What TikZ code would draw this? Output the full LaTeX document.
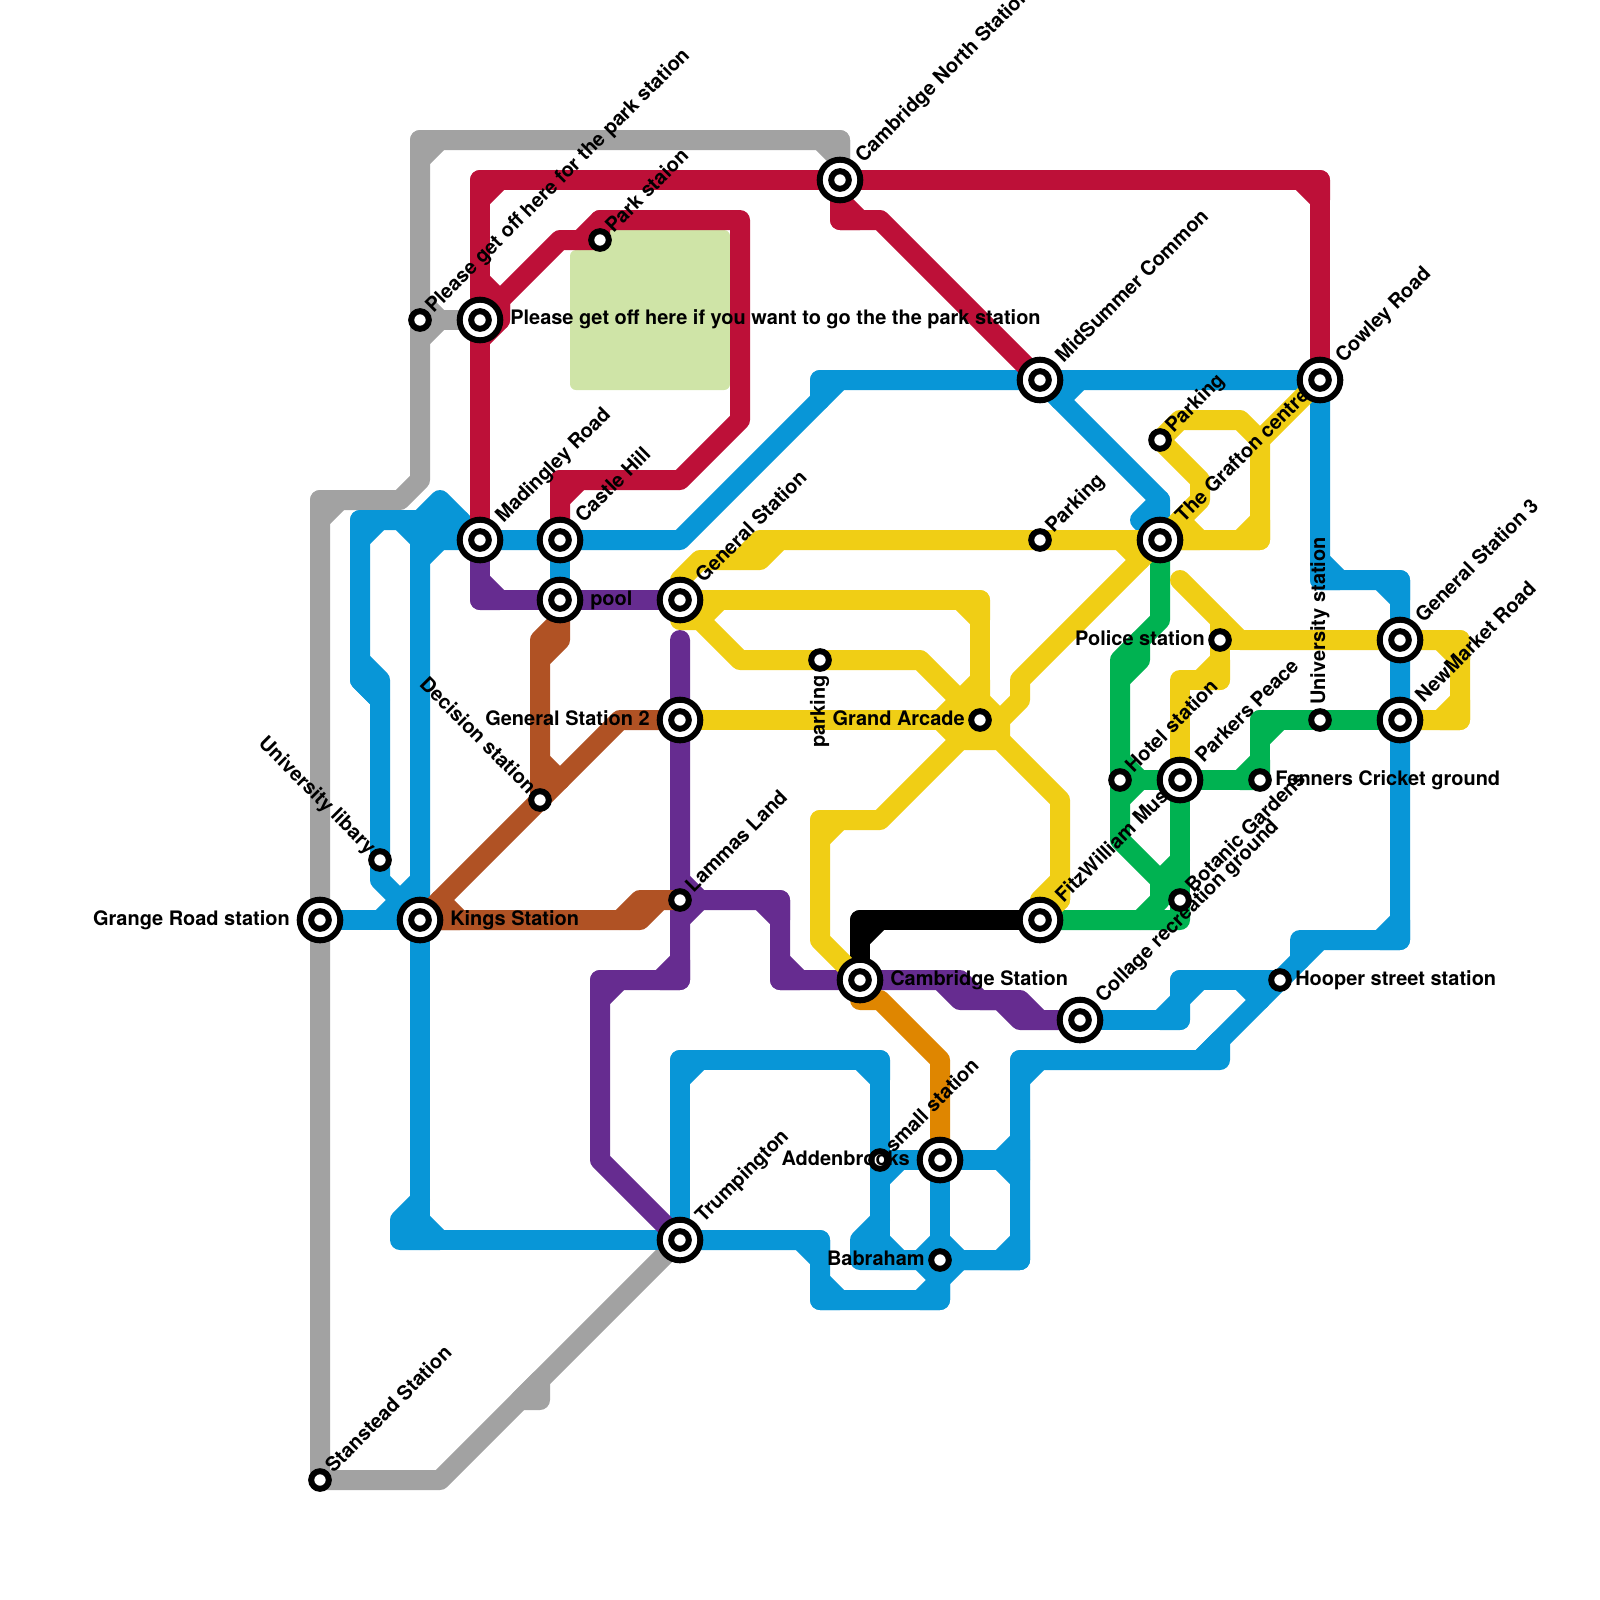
\documentclass[tikz,border=0pt]{standalone}
\usepackage{fontspec}
\setmainfont{TeX Gyre Heros}
\usepackage{xcolor}
\usepackage{tikz}
\usetikzlibrary{backgrounds}
\definecolor{railgray}{HTML}{A2A2A2}
\definecolor{railblue}{HTML}{0896D7}
\definecolor{railred}{HTML}{BD1038}
\definecolor{railpurple}{HTML}{662C90}
\definecolor{railbrown}{HTML}{B05224}
\definecolor{railyellow}{HTML}{F0CE15}
\definecolor{railgreen}{HTML}{00B251}
\definecolor{railorange}{HTML}{DF8600}
\definecolor{parkgreen}{HTML}{CFE4A7}
\newcommand{\bevel}[3]{\draw (#1) -- (#2) -- (#3) -- cycle;}

\begin{document}
\begin{tikzpicture}[
    x=0.5cm, y=-0.5cm,
    rail/.style={line width=5mm, line cap=round, line join=round},
    minor/.style={circle, draw=black, fill=white, inner sep=0pt, outer sep=0pt, minimum size=4.4mm, line width=1.5mm},
    major/.style={circle, draw=black, fill=white, inner sep=0pt, outer sep=0pt, minimum size=10.15mm, line width=1.5mm,
                  path picture={\draw[black, line width=1.5mm] (path picture bounding box.center) circle (2.2mm);}},
    tag/.style={font=\bfseries\fontsize{14.2}{16}\selectfont, inner sep=0pt, text height=10.1pt, text depth=3pt},
    upbig/.style={tag, rotate=45, anchor=west, xshift=7mm},
    upsmall/.style={tag, rotate=45, anchor=west, xshift=3.5mm},
    downsmall/.style={tag, rotate=-45, anchor=east, xshift=-3mm},
    rightbig/.style={tag, anchor=west, xshift=7.5mm},
    rightsmall/.style={tag, anchor=west, xshift=3.75mm},
    leftbig/.style={tag, anchor=east, xshift=-7.5mm},
    leftsmall/.style={tag, anchor=east, xshift=-3.75mm}
]
    \useasboundingbox (0,0) rectangle (80,80);

    \node[major] (grange) at (16,46) {};
    \node[major] (kings) at (21,46) {};
    \node[minor] (library) at (19,43) {};
    \node[minor] (stansted) at (16,74) {};
    \node[minor] (parkoff) at (21,16) {};
    \node[major] (getoff) at (24,16) {};
    \node[minor] (park) at (30,12) {};
    \node[major] (madingley) at (24,27) {};
    \node[major] (castle) at (28,27) {};
    \node[major] (pool) at (28,30) {};
    \node[major] (general) at (34,30) {};
    \node[major] (generaltwo) at (34,36) {};
    \node[minor] (decision) at (27,40) {};
    \node[minor] (lammas) at (34,45) {};
    \node[major] (trumpington) at (34,62) {};
    \node[major] (cnorth) at (42,9) {};
    \node[major] (midsummer) at (52,19) {};
    \node[minor] (parkinga) at (52,27) {};
    \node[major] (grafton) at (58,27) {};
    \node[minor] (parkingb) at (58,22) {};
    \node[major] (cowley) at (66,19) {};
    \node[minor] (parkingc) at (41,33) {};
    \node[minor] (arcade) at (49,36) {};
    \node[minor] (police) at (61,32) {};
    \node[major] (generalthree) at (70,32) {};
    \node[major] (newmarket) at (70,36) {};
    \node[minor] (university) at (66,36) {};
    \node[minor] (hotel) at (56,39) {};
    \node[minor] (fenners) at (63,39) {};
    \node[minor] (botanic) at (59,45) {};
    \node[major] (fitz) at (52,46) {};
    \node[upbig] (tfitz) at (fitz.center) {FitzWilliam Museum};
    \node[major] (parkers) at (59,39) {};
    \node[major] (cambridge) at (43,49) {};
    \node[major] (collage) at (54,51) {};
    \node[minor] (hooper) at (64,49) {};
    \node[major] (addenbrooks) at (47,58) {};
    \node[minor] (smallst) at (44,58) {};
    \node[minor] (babraham) at (47,63) {};

    \begin{scope}[on background layer]
        \fill[parkgreen, rounded corners=1.5mm] (28.5,12.5) -- (28.5,19.5) -- (36.5,19.5) -- (36.5,11.5) -- (30,11.5) -- (30,12.5) -- cycle;
    \end{scope}

    \begin{scope}[on background layer={rail, railgray}]
        \draw (stansted.center) -- (16,25) -- (20,25) -- (21,24) -- (21,7) -- (42,7) -- (cnorth.center);
        \draw (stansted.center) -- (22,74) -- (trumpington.center);
        \draw (parkoff.center) -- (getoff.center);
        \bevel{16,25}{16,26}{17,25} \bevel{21,7}{21,8}{22,7} \bevel{42,7}{41,7}{42,8}
        \bevel{21,16}{21,17}{22,16} \bevel{21,16}{21,15}{22,16} \bevel{27,69}{27,70}{26,70}
    \end{scope}

    \begin{scope}[on background layer={rail, railblue}]
        \draw (grange.center) -- (kings.center) -- (21,62) -- (trumpington.center);
        \draw (21,60) -- (20,61) -- (20,62) -- (21,62);
        \bevel{21,61}{21,62}{22,62}
        \draw (kings.center) -- (21,26) -- (18,26) -- (18,34) -- (19,35) -- (library.center) -- (19,44) -- (kings.center);
        \draw (18,33) -- (19,34) -- (19,35) -- (18,34) -- cycle;
        \draw (19,46) -- (21,44);
        \bevel{18,26}{18,27}{19,26} \bevel{21,26}{20,26}{21,27} \bevel{21,28}{21,27}{22,27}
        \draw (21,26) -- (22,25) -- (madingley.center);
        \draw (21,26) -- (23,26);
        \draw (21,27) -- (madingley.center) -- (castle.center) -- (34,27) -- (41,20) -- (41,19)
            -- (midsummer.center) -- (cowley.center) -- (66,29) -- (70,29) -- (generalthree.center)
            -- (newmarket.center) -- (70,47) -- (66,47) -- (hooper.center) -- (60,53)
            -- (51,53) -- (51,63) -- (babraham.center) -- (47,65) -- (41,65) -- (41,62) -- (trumpington.center);
        \draw (66,47) -- (65,47) -- (65,48);
        \draw (castle.center) -- (pool.center);
        \bevel{41,20}{41,19}{42,19} \bevel{66,28}{66,29}{67,29} \bevel{70,29}{69,29}{70,30}
        \bevel{70,47}{69,47}{70,46} \bevel{60,53}{61,53}{61,52} \bevel{51,53}{51,54}{52,53}
        \bevel{41,62}{40,62}{41,63} \bevel{41,65}{41,64}{42,65} \bevel{47,65}{46,65}{47,64}
        \draw (midsummer.center) -- (58,25) -- (grafton.center);
        \draw (58,25) -- (57,26) -- (grafton.center);
        \bevel{53,20}{54,19}{53,19}
        \draw (collage.center) -- (59,51) -- (59,49) -- (hooper.center);
        \bevel{59,51}{58,51}{59,50} \bevel{59,49}{59,50}{60,49} \bevel{62,49}{63,49}{63,50}
        \draw (trumpington.center) -- (34,53) -- (44,53) -- (smallst.center) -- (44,63);
        \bevel{34,53}{34,54}{35,53} \bevel{44,53}{43,53}{44,54}
        \draw (44,61) -- (43,62) -- (43,63) -- (babraham.center) -- (51,63);
        \bevel{44,62}{44,63}{45,63} \bevel{46,63}{47,62}{47,63} \bevel{47,62}{48,63}{47,63}
        \bevel{46,63}{47,64}{47,63} \bevel{47,64}{48,63}{47,63} \bevel{50,63}{51,62}{51,63}
        \draw (smallst.center) -- (addenbrooks.center) -- (51,58);
        \draw (addenbrooks.center) -- (babraham.center);
        \bevel{51,58}{50,58}{51,57} \bevel{51,58}{50,58}{51,59} \bevel{44,58}{44,59}{45,58}
    \end{scope}

    \begin{scope}[on background layer={rail, railred}]
        \draw (madingley.center) -- (24,9) -- (cnorth.center) -- (66,9) -- (cowley.center);
        \bevel{24,9}{24,10}{25,9} \bevel{66,9}{65,9}{66,10}
        \draw (24,14) -- (25,15) -- (25,16) -- (24,17) -- cycle;
        \draw (getoff.center) -- (25,16) -- (25,15) -- (28,12) -- (park.center) -- (30,11) -- (37,11)
            -- (37,21) -- (34,24) -- (28,24) -- (castle.center);
        \draw (29,12) -- (30,11);
        \bevel{28,24}{28,25}{29,24}
        \draw (cnorth.center) -- (42,11) -- (44,11) -- (midsummer.center);
        \bevel{42,11}{42,10}{43,11}
    \end{scope}

    \begin{scope}[on background layer={rail, railpurple}]
        \draw (madingley.center) -- (24,30) -- (pool.center) -- (general.center);
        \bevel{24,30}{24,29}{25,30}
        \draw (34,32) -- (generaltwo.center) -- (lammas.center) -- (34,49) -- (30,49) -- (30,58) -- (trumpington.center);
        \bevel{34,49}{33,49}{34,48} \bevel{30,49}{30,50}{31,49}
        \draw (lammas.center) -- (39,45) -- (39,49) -- (cambridge.center) -- (48,49) -- (49,50) -- (51,50) -- (52,51) -- (collage.center);
        \draw (47,49) -- (48,50) -- (50,50) -- (51,51) -- (52,51);
        \bevel{39,45}{38,45}{39,46} \bevel{39,49}{39,48}{40,49}
        \bevel{34,46}{35,45}{34,45} \bevel{34,44}{35,45}{34,45}
    \end{scope}

    \begin{scope}[on background layer={rail, railbrown}]
        \draw (pool.center) -- (28,32) -- (27,33) -- (decision.center);
        \draw (28,31) -- (27,32) -- (27,33);
        \draw (kings.center) -- (decision.center) -- (31,36) -- (generaltwo.center);
        \bevel{27,38}{28,39}{27,39} \bevel{22,45}{23,46}{22,46}
        \draw (kings.center) -- (32,46) -- (33,45) -- (lammas.center);
        \draw (31,46) -- (32,45) -- (33,45);
    \end{scope}

    \begin{scope}[on background layer={rail, railorange}]
        \draw (cambridge.center) -- (43,50) -- (44,50) -- (47,53) -- (addenbrooks.center);
    \end{scope}

    \begin{scope}[on background layer={rail, black}]
        \draw (cambridge.center) -- (43,46) -- (fitz.center);
        \bevel{43,46}{43,47}{44,46}
    \end{scope}

    \begin{scope}[on background layer={rail, railgreen}]
        \draw (grafton.center) -- (58,31) -- (56,33) -- (56,42) -- (botanic.center) -- (59,46) -- (fitz.center);
        \draw (57,32) -- (57,33) -- (56,34);
        \draw (hotel.center) -- (parkers.center) -- (fenners.center) -- (63,36) -- (university.center) -- (newmarket.center);
        \bevel{56,38}{57,39}{56,39} \bevel{56,40}{57,39}{56,39} \bevel{62,39}{63,38}{63,39} \bevel{63,37}{64,36}{63,36}
        \draw (parkers.center) -- (botanic.center);
        \draw (59,43) -- (58,44) -- (58,45) -- (57,46);
    \end{scope}

    \begin{scope}[on background layer={rail, railyellow}]
        \draw (general.center) -- (34,29) -- (35,28) -- (38,28) -- (39,27) -- (parkinga.center) -- (grafton.center) -- (63,27) -- (63,22)
            -- (62,21) -- (59,21) -- (parkingb.center) -- (60,24) -- (60,25) -- (grafton.center);
        \draw (37,28) -- (38,27) -- (39,27);
        \draw (63,22) -- (cowley.center);
        \bevel{62,27}{63,26}{63,27} \bevel{59,26}{60,27}{59,27} \bevel{56,27}{57,28}{57,27}
        \draw (grafton.center) -- (51,34) -- (51,35) -- (50,36) -- (50,37);
        \draw (general.center) -- (49,30) -- (arcade.center);
        \bevel{48,30}{49,31}{49,30}
        \draw (general.center) -- (34,31) -- (35,31) -- (37,33) -- (parkingc.center) -- (46,33) -- (arcade.center);
        \bevel{35,31}{36,30}{35,30}
        \draw (generaltwo.center) -- (arcade.center) -- (50,36);
        \bevel{47,36}{48,37}{48,36} \bevel{47,36}{48,35}{48,36} \bevel{48,35}{49,34}{49,35} \bevel{49,35}{50,36}{49,36}
        \draw (48,37) -- (50,37) -- (53,40) -- (53,45) -- (fitz.center);
        \bevel{53,44}{52,45}{53,45}
        \draw (48,37) -- (44,41) -- (41,41) -- (41,47) -- (cambridge.center);
        \bevel{41,41}{41,42}{42,41}
        \draw (59,29) -- (62,32) -- (generalthree.center) -- (73,32) -- (73,36) -- (newmarket.center);
        \bevel{72,32}{73,33}{73,32} \bevel{72,36}{73,35}{73,36}
        \draw (61,31) -- (police.center) -- (61,34) -- (59,34) -- (parkers.center);
        \draw (police.center) -- (62,32);
        \bevel{61,33}{60,34}{61,34}
    \end{scope}

    \foreach \st/\txt in {cnorth/Cambridge North Station, midsummer/MidSummer Common, cowley/Cowley Road,
                          grafton/The Grafton centre, general/General Station, madingley/Madingley Road,
                          castle/Castle Hill, generalthree/General Station 3, newmarket/NewMarket Road,
                          parkers/Parkers Peace, collage/Collage recreation ground, trumpington/Trumpington}
        \node[upbig] (t\st) at (\st.center) {\txt};

    \foreach \st/\txt in {parkoff/Please get off here for the park station, park/Park staion, lammas/Lammas Land,
                          parkinga/Parking, parkingb/Parking, hotel/Hotel station, botanic/Botanic Gardens,
                          stansted/Stanstead Station, smallst/small station}
        \node[upsmall] (t\st) at (\st.center) {\txt};

    \node[downsmall] (tlibrary) at (library.center) {University libary};
    \node[downsmall] (tdecision) at (decision.center) {Decision station};
    \node[tag, rotate=90, anchor=east, xshift=-3.75mm] (tparkingc) at (parkingc.center) {parking};
    \node[tag, rotate=90, anchor=west, xshift=3.75mm] (tuniversity) at (university.center) {University station};

    \node[rightbig] (tgetoff) at (getoff.center) {Please get off here if you want to go the the park station};
    \node[rightbig] (tkings) at (kings.center) {Kings Station};
    \node[rightbig] (tpool) at (pool.center) {pool};
    \node[rightbig] (tcambridge) at (cambridge.center) {Cambridge Station};
    \node[rightsmall] (thooper) at (hooper.center) {Hooper street station};
    \node[rightsmall] (tfenners) at (fenners.center) {Fenners Cricket ground};
    \node[leftbig] (tgrange) at (grange.center) {Grange Road station};
    \node[leftbig] (tgeneraltwo) at (generaltwo.center) {General Station 2};
    \node[leftbig] (taddenbrooks) at (addenbrooks.center) {Addenbrooks};
    \node[leftsmall] (tarcade) at (arcade.center) {Grand Arcade};
    \node[leftsmall] (tbabraham) at (babraham.center) {Babraham};
    \node[leftsmall] (tpolice) at (police.center) {Police station};
\end{tikzpicture}
\end{document}
